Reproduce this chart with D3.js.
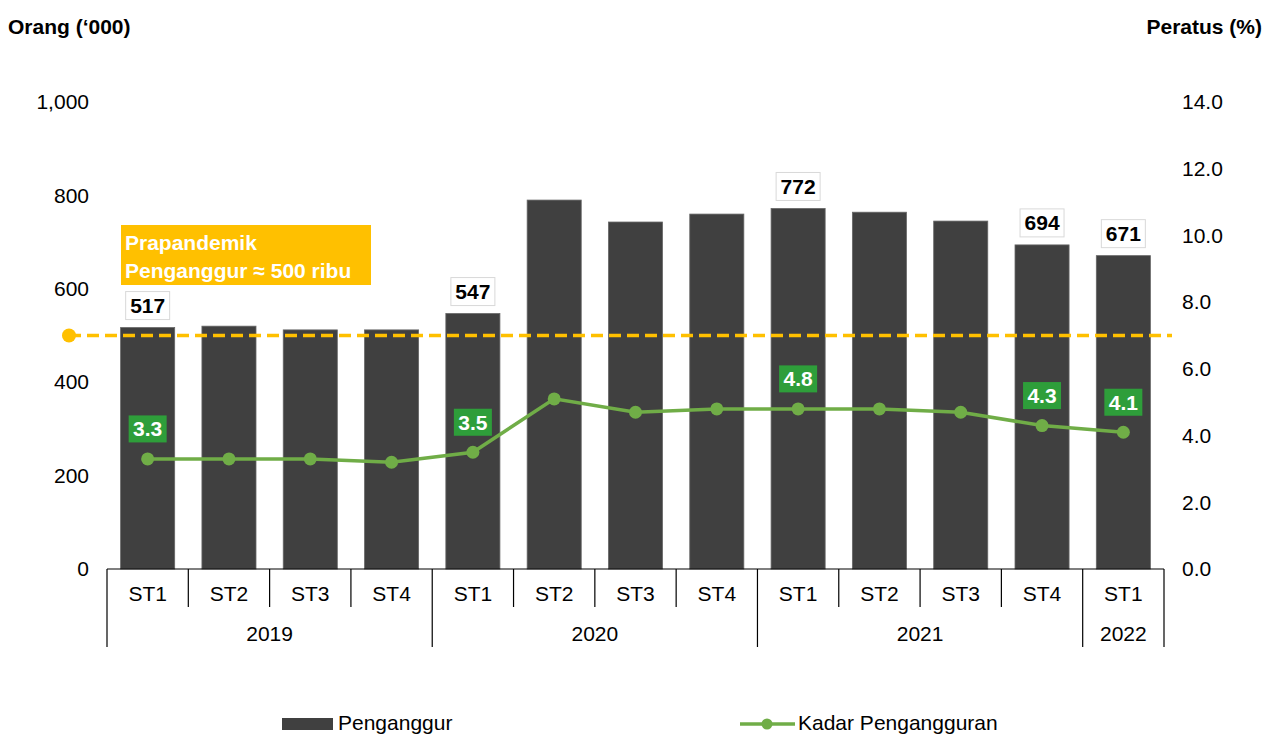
<!DOCTYPE html>
<html><head><meta charset="utf-8">
<script src="https://cdn.jsdelivr.net/npm/d3@7"></script>
<style>body{margin:0;background:#fff;} svg{display:block;font-family:"Liberation Sans",Arial,sans-serif;}</style>
</head><body>
<svg id="chart" width="1265" height="736"></svg>
<script>
const quarters = ["ST1","ST2","ST3","ST4","ST1","ST2","ST3","ST4","ST1","ST2","ST3","ST4","ST1"];
const years = ["2019","2019","2019","2019","2020","2020","2020","2020","2021","2021","2021","2021","2022"];
const penganggur = [517,520,512,512,547,790,743,760,772,764,745,694,671];
const kadar = [3.3,3.3,3.3,3.2,3.5,5.1,4.7,4.8,4.8,4.8,4.7,4.3,4.1];
const barLabelIdx = [0,4,8,11,12];
const lineLabelIdx = [0,4,8,11,12];
const leftTicks = [0,200,400,600,800,1000];
const rightTicks = [0,2,4,6,8,10,12,14];
const prePandemic = 500;

(function(){
const FS = 21;
const svg = d3.select("#chart");
const pL = 107, pR = 1164, pT = 102, pB = 569;
const keys = quarters.map((q,i)=>i);
const x = d3.scaleBand().domain(keys).range([pL,pR]).paddingInner(0.335).paddingOuter(0.1675);
const xs = d3.scaleBand().domain(keys).range([pL,pR]);
const yL = d3.scaleLinear().domain([0,1000]).range([pB,pT]);
const yR = d3.scaleLinear().domain([0,14]).range([pB,pT]);

svg.append("text").attr("x",8).attr("y",34).attr("font-size",FS).attr("font-weight","bold").text("Orang (‘000)");
svg.append("text").attr("x",1262).attr("y",34).attr("font-size",FS).attr("font-weight","bold").attr("text-anchor","end").text("Peratus (%)");

const la = svg.append("g").attr("transform",`translate(${pL-18},0)`)
  .call(d3.axisLeft(yL).tickValues(leftTicks).tickSize(0).tickPadding(0).tickFormat(d3.format(",")));
la.select(".domain").remove();
la.selectAll("text").attr("font-size",FS).attr("fill","#000").attr("font-family","Liberation Sans, Arial, sans-serif");
const ra = svg.append("g").attr("transform",`translate(1182,0)`)
  .call(d3.axisRight(yR).tickValues(rightTicks).tickSize(0).tickPadding(0).tickFormat(d3.format(".1f")));
ra.select(".domain").remove();
ra.selectAll("text").attr("font-size",FS).attr("fill","#000").attr("font-family","Liberation Sans, Arial, sans-serif");

svg.append("g").selectAll("rect").data(penganggur).join("rect")
  .attr("x",(d,i)=>x(i)).attr("width",x.bandwidth())
  .attr("y",d=>yL(d)).attr("height",d=>yL(0)-yL(d))
  .attr("fill","#404040").attr("stroke","#666").attr("stroke-width",0.8);

const ax = svg.append("g").attr("stroke","#000").attr("stroke-width",1.2);
ax.append("line").attr("x1",pL).attr("x2",pR).attr("y1",pB).attr("y2",pB);
for(let i=0;i<=keys.length;i++){
  const xx = i<keys.length ? xs(i) : pR;
  const yearEdge = i===0 || i===keys.length || years[i]!==years[i-1];
  ax.append("line").attr("x1",xx).attr("x2",xx).attr("y1",pB).attr("y2",yearEdge?647:607);
}
svg.append("g").selectAll("text").data(quarters).join("text")
  .attr("x",(d,i)=>xs(i)+xs.bandwidth()/2).attr("y",601).attr("text-anchor","middle").attr("font-size",FS).text(d=>d);
const yearGroups = d3.groups(keys,i=>years[i]);
svg.append("g").selectAll("text").data(yearGroups).join("text")
  .attr("x",d=>(xs(d[1][0])+xs(d[1][d[1].length-1])+xs.bandwidth())/2).attr("y",641)
  .attr("text-anchor","middle").attr("font-size",FS).text(d=>d[0]);

svg.append("line").attr("x1",69).attr("x2",1172).attr("y1",yL(prePandemic)).attr("y2",yL(prePandemic))
  .attr("stroke","#ffc000").attr("stroke-width",3.5).attr("stroke-dasharray","12,6");
svg.append("circle").attr("cx",69).attr("cy",yL(prePandemic)).attr("r",7).attr("fill","#ffc000");
svg.append("rect").attr("x",121).attr("y",225).attr("width",250).attr("height",60).attr("fill","#ffc000");
svg.append("text").attr("x",125).attr("y",250).attr("font-size",FS).attr("font-weight","bold").attr("fill","#fff").text("Prapandemik");
svg.append("text").attr("x",125).attr("y",278).attr("font-size",FS).attr("font-weight","bold").attr("fill","#fff").text("Penganggur ≈ 500 ribu");

const line = d3.line().x((d,i)=>xs(i)+xs.bandwidth()/2).y(d=>yR(d));
svg.append("path").datum(kadar).attr("d",line).attr("fill","none").attr("stroke","#70ad47").attr("stroke-width",3.5);
svg.append("g").selectAll("circle").data(kadar).join("circle")
  .attr("cx",(d,i)=>xs(i)+xs.bandwidth()/2).attr("cy",d=>yR(d)).attr("r",6.5).attr("fill","#70ad47");

const bl = svg.append("g").selectAll("g").data(barLabelIdx).join("g")
  .attr("transform",i=>`translate(${xs(i)+xs.bandwidth()/2},${yL(penganggur[i])-22})`);
bl.append("rect").attr("x",-22).attr("y",-14).attr("width",44).attr("height",28).attr("fill","#fff").attr("stroke","#d9d9d9").attr("stroke-width",1);
bl.append("text").attr("text-anchor","middle").attr("dy","0.36em").attr("font-size",FS).attr("font-weight","bold").text(i=>penganggur[i]);

const ll = svg.append("g").selectAll("g").data(lineLabelIdx).join("g")
  .attr("transform",i=>`translate(${xs(i)+xs.bandwidth()/2},${yR(kadar[i])-30})`);
ll.append("rect").attr("x",-19).attr("y",-13.5).attr("width",38).attr("height",27).attr("fill","#2e9e3a");
ll.append("text").attr("text-anchor","middle").attr("dy","0.36em").attr("font-size",FS).attr("font-weight","bold").attr("fill","#fff").text(i=>d3.format(".1f")(kadar[i]));

svg.append("rect").attr("x",282).attr("y",718).attr("width",51).attr("height",12).attr("fill","#404040");
svg.append("text").attr("x",338).attr("y",730).attr("font-size",FS).text("Penganggur");
svg.append("line").attr("x1",740).attr("x2",795).attr("y1",724).attr("y2",724).attr("stroke","#70ad47").attr("stroke-width",3.5);
svg.append("circle").attr("cx",767).attr("cy",724).attr("r",5.5).attr("fill","#70ad47");
svg.append("text").attr("x",798).attr("y",730).attr("font-size",FS).text("Kadar Pengangguran");
})();
</script>
</body></html>
